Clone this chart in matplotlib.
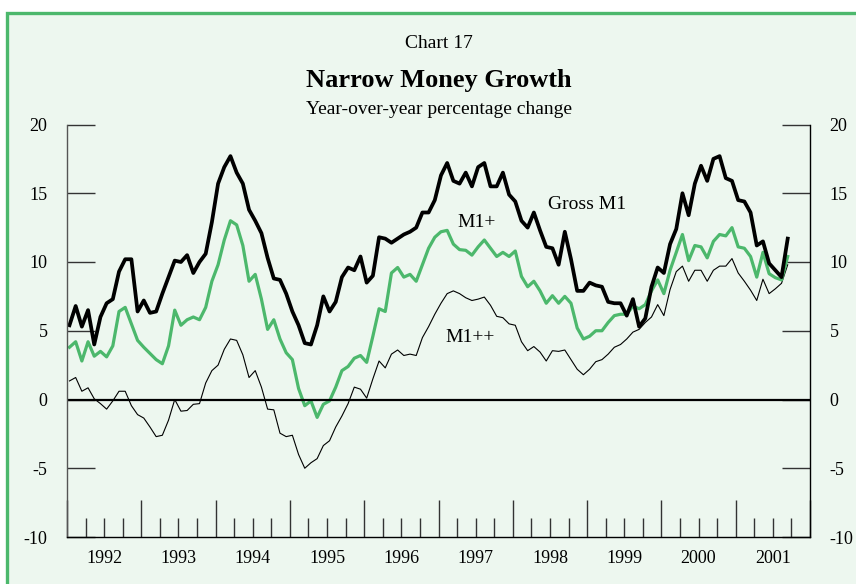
import matplotlib.pyplot as plt
import numpy as np
from matplotlib.patches import Rectangle
from matplotlib.transforms import blended_transform_factory

plt.rcParams['font.family'] = ['Liberation Serif', 'DejaVu Serif']
plt.rcParams['axes.unicode_minus'] = False

# monthly year-over-year % change, Jan 1992 - Sep 2001
gross_m1 = [5.4, 6.8, 5.3, 6.5, 4.0, 6.0, 7.0, 7.3, 9.3, 10.2, 10.2, 6.4,
            7.2, 6.3, 6.4, 7.7, 8.9, 10.1, 10.0, 10.5, 9.2, 10.0, 10.6, 12.9,
            15.7, 16.9, 17.7, 16.5, 15.7, 13.8, 13.0, 12.1, 10.3, 8.8, 8.7, 7.7,
            6.4, 5.4, 4.1, 4.0, 5.4, 7.5, 6.4, 7.1, 8.9, 9.6, 9.4, 10.4,
            8.5, 9.0, 11.8, 11.7, 11.4, 11.7, 12.0, 12.2, 12.5, 13.6, 13.6, 14.5,
            16.3, 17.2, 15.9, 15.7, 16.5, 15.5, 16.9, 17.2, 15.5, 15.5, 16.5, 14.9,
            14.4, 13.0, 12.5, 13.6, 12.3, 11.1, 11.0, 9.8, 12.2, 10.2, 7.9, 7.9,
            8.5, 8.3, 8.2, 7.1, 7.0, 7.0, 6.1, 7.3, 5.3, 5.9, 8.2, 9.6,
            9.2, 11.3, 12.4, 15.0, 13.4, 15.7, 17.0, 15.9, 17.5, 17.7, 16.1, 15.9,
            14.5, 14.4, 13.6, 11.2, 11.5, 9.9, 9.4, 8.9, 11.7]
m1_plus = [3.8, 4.2, 2.8, 4.2, 3.15, 3.5, 3.1, 3.9, 6.4, 6.7, 5.5, 4.3,
           3.8, 3.35, 2.9, 2.6, 3.9, 6.5, 5.4, 5.8, 6.0, 5.8, 6.7, 8.6,
           9.8, 11.6, 13.0, 12.7, 11.2, 8.6, 9.1, 7.3, 5.1, 5.8, 4.4, 3.4,
           2.9, 0.8, -0.45, -0.1, -1.3, -0.35, -0.1, 0.9, 2.1, 2.4, 3.0, 3.2,
           2.7, 4.6, 6.6, 6.4, 9.2, 9.6, 8.9, 9.1, 8.6, 9.8, 11.0, 11.8,
           12.2, 12.3, 11.3, 10.9, 10.85, 10.5, 11.1, 11.6, 11.0, 10.4, 10.7, 10.4,
           10.8, 8.95, 8.2, 8.6, 7.9, 7.0, 7.55, 7.0, 7.5, 7.0, 5.2, 4.4,
           4.6, 5.0, 5.0, 5.6, 6.1, 6.2, 6.2, 6.8, 6.6, 6.9, 7.9, 8.7,
           7.7, 9.4, 10.7, 12.0, 10.1, 11.2, 11.1, 10.3, 11.5, 12.0, 11.9, 12.5,
           11.1, 11.0, 10.4, 8.9, 10.7, 9.15, 8.86, 8.7, 10.4]
m1_plusplus = [1.35, 1.6, 0.6, 0.85, 0.05, -0.3, -0.7, -0.1, 0.6, 0.6, -0.45, -1.1,
               -1.35, -2.0, -2.7, -2.6, -1.5, 0.0, -0.85, -0.8, -0.35, -0.3, 1.2, 2.1,
               2.5, 3.65, 4.4, 4.3, 3.25, 1.6, 2.1, 0.9, -0.7, -0.75, -2.45, -2.7,
               -2.6, -4.0, -5.0, -4.6, -4.3, -3.35, -3.0, -2.0, -1.2, -0.3, 0.9, 0.75,
               0.1, 1.5, 2.8, 2.3, 3.3, 3.6, 3.2, 3.3, 3.2, 4.5, 5.3, 6.2,
               7.0, 7.7, 7.9, 7.7, 7.4, 7.2, 7.3, 7.45, 6.85, 6.05, 5.95, 5.5,
               5.4, 4.2, 3.55, 3.85, 3.45, 2.8, 3.55, 3.5, 3.6, 2.9, 2.2, 1.8,
               2.2, 2.75, 2.9, 3.3, 3.8, 4.0, 4.4, 4.9, 5.1, 5.6, 6.0, 6.9,
               6.1, 8.0, 9.3, 9.7, 8.6, 9.4, 9.4, 8.6, 9.4, 9.7, 9.7, 10.25,
               9.2, 8.6, 7.95, 7.2, 8.75, 7.7, 8.05, 8.45, 9.8]
years = list(range(1992, 2002))
yticks = [-10, -5, 0, 5, 10, 15, 20]

t = 1992 + (np.arange(len(gross_m1)) + 0.4) / 12

bg = '#edf7ef'
green = '#4cb86c'

fig = plt.figure(figsize=(8.56, 5.84), dpi=100)
fig.patch.set_facecolor('white')
# panel with green frame (right/bottom edges run off the page)
fig.add_artist(Rectangle((6.5 / 856, -0.1), 1.2, 1.1 - 13.5 / 584,
                         transform=fig.transFigure, facecolor=bg,
                         edgecolor=green, linewidth=2.4, zorder=0))

ax = fig.add_axes([67 / 856, 1 - 537 / 584, 743 / 856, 412.5 / 584])
ax.set_facecolor('none')

ax.plot(t, m1_plusplus, color='black', lw=0.8)
ax.plot(t, m1_plus, color=green, lw=2.3)
ax.plot(t, gross_m1, color='black', lw=2.7)
ax.axhline(0, color='black', lw=1.6)

ax.set_xlim(1992, 2002)
ax.set_ylim(-10, 20)
ax.spines['top'].set_visible(False)
ax.spines['left'].set_color('#555555')
for s in ['left', 'right', 'bottom']:
    ax.spines[s].set_linewidth(1.0)

ax.set_yticks(yticks)
ax.set_yticklabels([str(v) for v in yticks])
ax.tick_params(axis='y', direction='in', length=20, width=1.0, color='#333333',
               left=True, right=True, labelleft=True, labelright=True,
               pad=14, labelsize=13)

ax.set_xticks(years + [2002])
ax.set_xticks(np.arange(1992, 2002, 0.25), minor=True)
ax.tick_params(axis='x', which='major', direction='in', length=27, width=1.0,
               color='#333333', labelbottom=False)
ax.tick_params(axis='x', which='minor', direction='in', length=13.5, width=1.0,
               color='#333333')

trans = blended_transform_factory(ax.transData, ax.transAxes)
for y in years:
    ax.text(y + 0.5, -0.053, str(y), transform=trans, ha='center', va='center',
            fontsize=13)

ax.text(1998.47, 14.2, 'Gross M1', ha='left', va='center', fontsize=14)
ax.text(1997.25, 12.9, 'M1+', ha='left', va='center', fontsize=14)
ax.text(1997.09, 4.5, 'M1++', ha='left', va='center', fontsize=14)

cx = (67 + 810) / 2 / 856
fig.text(cx, 1 - 44 / 584, 'Chart 17', ha='center', va='center', fontsize=14)
fig.text(cx, 1 - 80 / 584, 'Narrow Money Growth', ha='center', va='center',
         fontsize=19, fontweight='bold')
fig.text(cx, 1 - 110 / 584, 'Year-over-year percentage change', ha='center',
         va='center', fontsize=14)

fig.savefig('out.png', dpi=100, facecolor=fig.get_facecolor())
